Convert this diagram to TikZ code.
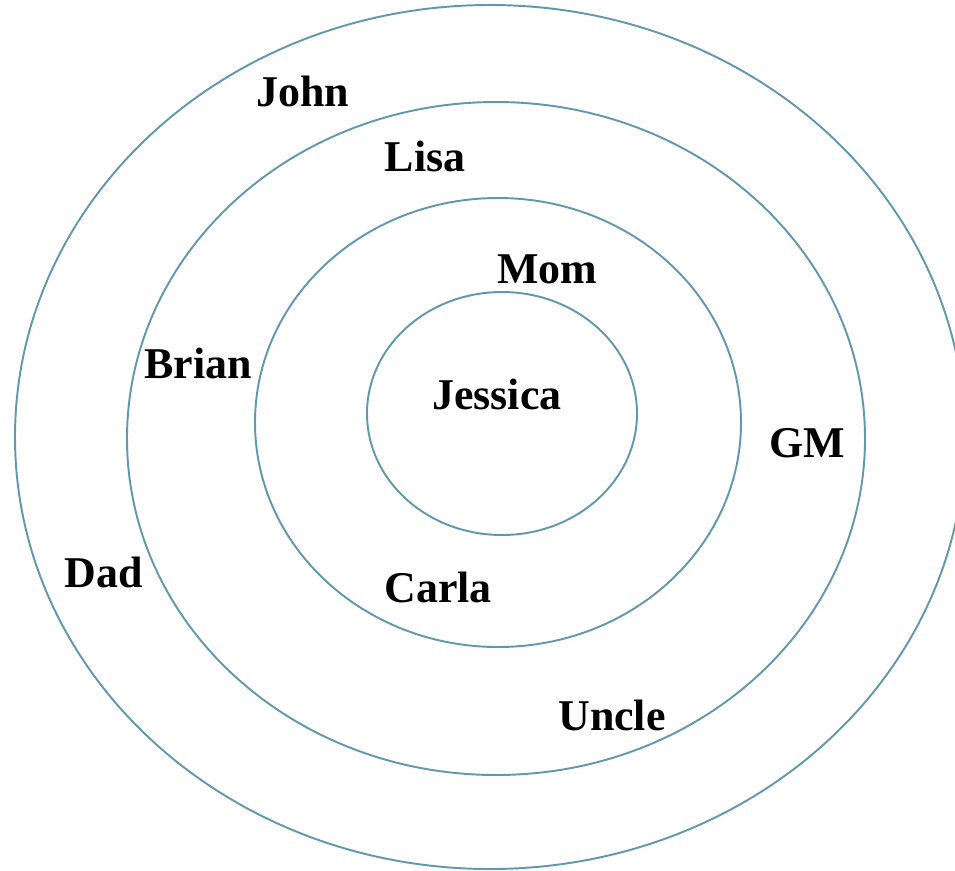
\documentclass[tikz,border=0pt]{standalone}
\usepackage{fontspec}
\setmainfont{Liberation Serif}
\usepackage{xcolor}
\definecolor{ringblue}{RGB}{98,152,172}

\begin{document}
\begin{tikzpicture}[
  x=0.02cm, y=-0.02cm,
  ring/.style={draw=ringblue, line width=1.1pt},
  who/.style={font=\bfseries\fontsize{25}{30}\selectfont, anchor=base, inner sep=0pt}]

  \useasboundingbox (0,0) rectangle (955,870);

  % ---------- rings ----------
  \draw[ring] (490,437)   ellipse [x radius=475, y radius=432];
  \draw[ring] (496,438.5) ellipse [x radius=369, y radius=336.5];
  \draw[ring] (498,422.5) ellipse [x radius=243, y radius=224.5];
  \draw[ring] (502,413.5) ellipse [x radius=135, y radius=121.5];

  % ---------- names ----------
  \node[who] (jessica) at (497,409) {Jessica};
  \node[who] (mom)     at (547,283) {Mom};
  \node[who] (carla)   at (438,602) {Carla};
  \node[who] (lisa)    at (425,171) {Lisa};
  \node[who] (brian)   at (198,378) {Brian};
  \node[who] (gm)      at (807,457) {GM};
  \node[who] (uncle)   at (612,730) {Uncle};
  \node[who] (john)    at (303,106) {John};
  \node[who] (dad)     at (104,587) {Dad};

\end{tikzpicture}
\end{document}
